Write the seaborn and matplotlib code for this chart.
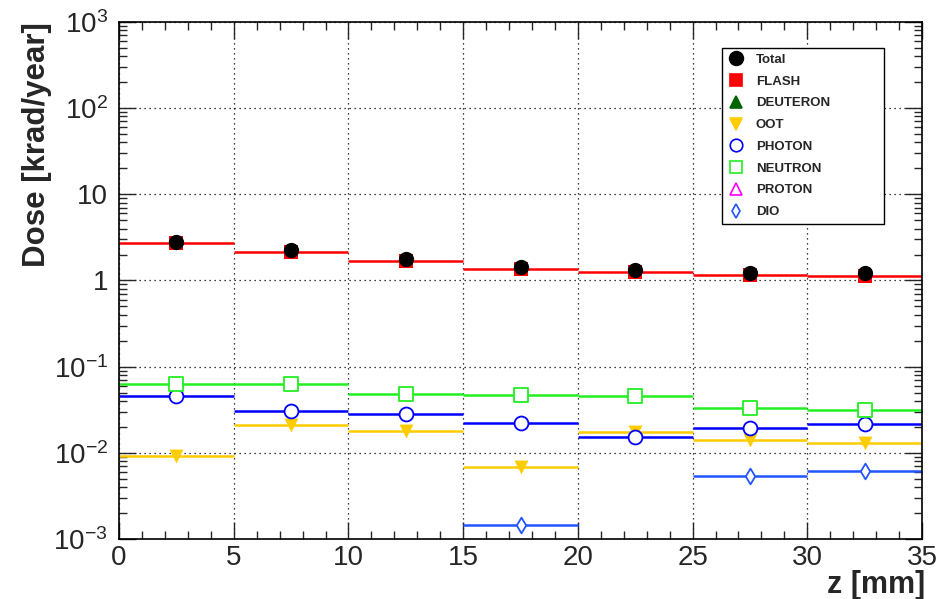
import numpy as np
import pandas as pd
import seaborn as sns
import matplotlib.pyplot as plt
from matplotlib.lines import Line2D
from matplotlib.ticker import MultipleLocator, LogLocator, FuncFormatter, NullFormatter

# bins in z [mm]
bin_edges = [0, 5, 10, 15, 20, 25, 30, 35]
z_centres = [2.5, 7.5, 12.5, 17.5, 22.5, 27.5, 32.5]

nan = np.nan
total = [2.83, 2.28, 1.76, 1.43, 1.32, 1.22, 1.22]
flash = [2.72, 2.16, 1.67, 1.36, 1.26, 1.15, 1.14]
deuteron = [nan, nan, nan, nan, nan, nan, nan]
oot = [0.0092, 0.021, 0.0181, 0.0069, 0.0174, 0.0142, 0.0131]
photon = [0.0452, 0.0302, 0.0281, 0.0224, 0.0151, 0.0196, 0.0216]
neutron = [0.0624, 0.0624, 0.0484, 0.0468, 0.0455, 0.033, 0.031]
proton = [nan, nan, nan, nan, nan, nan, nan]
dio = [nan, nan, nan, 0.00146, nan, 0.00538, 0.00615]

sns.set_style("ticks")
plt.rcParams['font.family'] = ['Liberation Sans', 'DejaVu Sans']
plt.rcParams['mathtext.fontset'] = 'custom'
plt.rcParams['mathtext.rm'] = 'Liberation Sans'
plt.rcParams['mathtext.it'] = 'Liberation Sans:italic'
plt.rcParams['mathtext.bf'] = 'Liberation Sans:bold'

# name, values, colour, marker, filled, size
series = [
    ('FLASH', flash, '#ff0000', 's', True, 9.5),
    ('DEUTERON', deuteron, '#006600', '^', True, 10),
    ('OOT', oot, '#ffcc00', 'v', True, 10),
    ('PHOTON', photon, '#0000ff', 'o', False, 10),
    ('NEUTRON', neutron, '#22ee22', 's', False, 10),
    ('PROTON', proton, '#ff00ff', '^', False, 10),
    ('DIO', dio, '#2255ff', 'd', False, 8),
    ('Total', total, '#000000', 'o', True, 11),
]

fig = plt.figure(figsize=(9.53, 5.99), dpi=100)
ax = fig.add_axes([0.1249, 0.1002, 0.8426, 0.8631])

lo = np.array(bin_edges[:-1])
hi = np.array(bin_edges[1:])
for name, vals, col, mk, filled, ms in series:
    v = np.array(vals)
    if name != 'Total':
        ax.hlines(v, lo, hi, colors=col, lw=1.8, zorder=2)
    df = pd.DataFrame({'z': z_centres, 'dose': v}).dropna()
    if df.empty:
        continue
    sns.scatterplot(data=df, x='z', y='dose', ax=ax, marker=mk, s=ms ** 2,
                    color=col if filled else 'white', edgecolor=col,
                    linewidth=0 if filled else 1.3, zorder=4 if name == 'Total' else 3)
    if name == 'DIO':
        ax.errorbar(df['z'], df['dose'], yerr=df['dose'] * 0.15, fmt='none',
                    ecolor=col, elinewidth=1.0, zorder=2)

ax.set_yscale('log')
ax.set_xlim(0, 35)
ax.set_ylim(1e-3, 1e3)

ax.xaxis.set_major_locator(MultipleLocator(5))
ax.xaxis.set_minor_locator(MultipleLocator(1))
ax.yaxis.set_major_locator(LogLocator(base=10, numticks=10))
ax.yaxis.set_minor_locator(LogLocator(base=10, subs=np.arange(2, 10), numticks=20))
ax.yaxis.set_minor_formatter(NullFormatter())


def yfmt(v, pos):
    e = int(round(np.log10(v)))
    if e == 0:
        return '1'
    if e == 1:
        return '10'
    return r'$10^{%d}$' % e


ax.yaxis.set_major_formatter(FuncFormatter(yfmt))
ax.xaxis.set_major_formatter(FuncFormatter(lambda v, p: '%d' % v))

ax.tick_params(which='both', direction='in', top=True, right=True, labelsize=20)
ax.tick_params(axis='y', pad=8)
ax.tick_params(axis='x', pad=4)
ax.tick_params(which='major', length=12, width=1)
ax.tick_params(which='minor', length=6, width=1)
ax.grid(True, which='major', color='black', linestyle=(0, (1, 3)), lw=0.9)
for sp in ax.spines.values():
    sp.set_linewidth(1.2)
    sp.set_color('black')

ax.set_xlabel('z [mm]', fontsize=22, fontweight='bold', loc='right')
ax.xaxis.set_label_coords(1.004, -0.06)
ax.set_ylabel('Dose [krad/year]', fontsize=22.5, fontweight='bold', loc='top')
ax.yaxis.set_label_coords(-0.083, 1.0)

order = ['Total', 'FLASH', 'DEUTERON', 'OOT', 'PHOTON', 'NEUTRON', 'PROTON', 'DIO']
look = {s[0]: s for s in series}
handles = []
for name in order:
    _, _, col, mk, filled, ms = look[name]
    handles.append(Line2D([], [], ls='none', marker=mk, markersize=ms * 0.9,
                          markerfacecolor=col if filled else 'none',
                          markeredgecolor=col, markeredgewidth=1.2, label=name))
leg = ax.legend(handles=handles, loc='upper left', bbox_to_anchor=(0.751, 0.615, 0.202, 0.335),
                mode='expand', frameon=True, fancybox=False, edgecolor='black', framealpha=1,
                prop={'weight': 'bold', 'size': 9.5}, labelspacing=0.72, handlelength=1.2,
                handletextpad=0.9, borderpad=0.45, borderaxespad=0)
leg.get_frame().set_linewidth(1.0)

fig.savefig('out.png', dpi=100)
